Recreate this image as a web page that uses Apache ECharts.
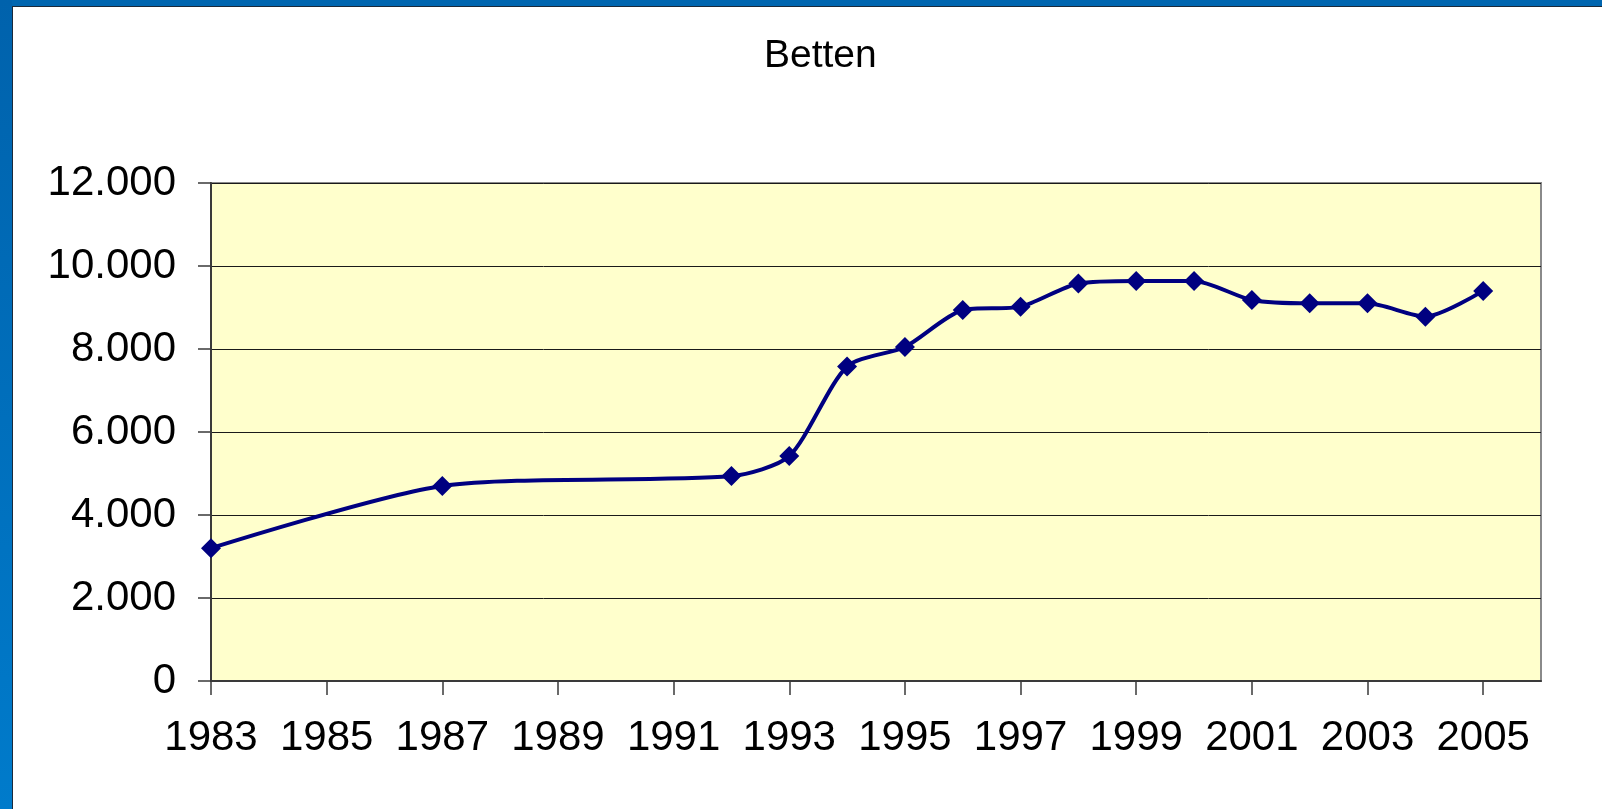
<!DOCTYPE html>
<html><head><meta charset="utf-8">
<script src="https://cdn.jsdelivr.net/npm/echarts@6/dist/echarts.min.js"></script>
<style>html,body{margin:0;padding:0;background:#fff}#c{width:1602px;height:809px}</style>
</head><body><div id="c"></div><script>
const titleText = 'Betten';
const years = [1983,1987,1992,1993,1994,1995,1996,1997,1998,1999,2000,2001,2002,2003,2004,2005];
const beds  = [3200,4700,4940,5420,7580,8050,8940,9020,9580,9640,9640,9180,9100,9100,8780,9400];
const xTickYears = [1983,1985,1987,1989,1991,1993,1995,1997,1999,2001,2003,2005];
const yMin = 0, yMax = 12000, yStep = 2000;

function fmtThousands(v){
  const s = String(Math.round(v));
  return s.replace(/\B(?=(\d{3})+(?!\d))/g, '.');
}

const chart = echarts.init(document.getElementById('c'), null, {renderer:'canvas'});
const font = '"Liberation Sans", Arial, sans-serif';
chart.setOption({
  animation:false,
  backgroundColor:'#ffffff',
  title:{
    text:titleText, left:759, top:32,
    textStyle:{fontFamily:font, fontSize:39, fontWeight:'normal', color:'#000'}
  },
  graphic:[
    {type:'rect', shape:{x:0,y:0,width:1602,height:6}, style:{fill:'#0066B0'}, silent:true},
    {type:'rect', shape:{x:0,y:6,width:1602,height:1}, style:{fill:'#1b2a3a'}, silent:true},
    {type:'rect', shape:{x:0,y:0,width:12,height:809}, style:{fill:new echarts.graphic.LinearGradient(0,0,0,1,[{offset:0,color:'#0062AC'},{offset:1,color:'#007BCB'}])}, silent:true},
    {type:'rect', shape:{x:12,y:6,width:1,height:803}, style:{fill:'#1b2a3a'}, silent:true}
  ],
  grid:{
    left:211, top:183, right:61, bottom:128,
    show:true, backgroundColor:'#FFFFCC', borderColor:'#8a8a8a', borderWidth:2
  },
  xAxis:{
    type:'value', min:1983, max:2006,
    axisLine:{show:true, onZero:false, lineStyle:{color:'#3a3a3a', width:2}},
    axisTick:{show:true, length:14, customValues:xTickYears, lineStyle:{color:'#3a3a3a', width:1.5}},
    axisLabel:{customValues:xTickYears, margin:36, fontFamily:font, fontSize:42, color:'#000',
      formatter:v=>String(v)},
    splitLine:{show:false}
  },
  yAxis:{
    type:'value', min:yMin, max:yMax, interval:yStep,
    axisLine:{show:true, lineStyle:{color:'#3a3a3a', width:2}},
    axisTick:{show:true, length:13, lineStyle:{color:'#3a3a3a', width:1.5}},
    axisLabel:{margin:35, fontFamily:font, fontSize:42, color:'#000', formatter:fmtThousands},
    splitLine:{show:true, lineStyle:{color:'#1a1a1a', width:1}}
  },
  series:[{
    type:'line',
    data:years.map((y,i)=>[y,beds[i]]),
    smooth:0.25,
    symbol:'diamond', symbolSize:20,
    lineStyle:{color:'#000080', width:4},
    itemStyle:{color:'#000080'},
    z:5
  }]
});
</script></body></html>
